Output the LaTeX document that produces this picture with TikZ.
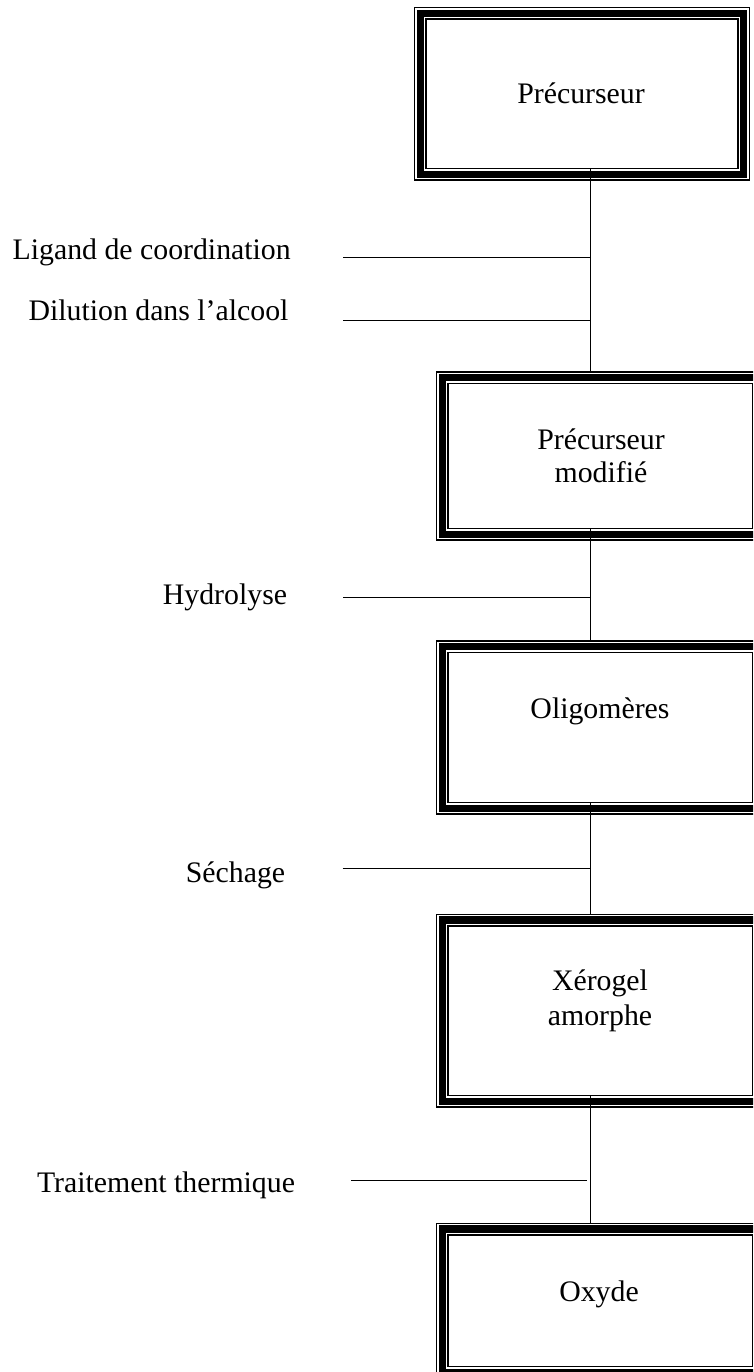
\documentclass[tikz,border=0pt]{standalone}
\usepackage{fontspec}
\setmainfont{Liberation Serif}
\usetikzlibrary{calc}
\tikzset{
  stagebox/.style={draw, rectangle, line width=1.4pt, inner sep=0pt, outer sep=0pt},
  boxtext/.style={font=\fontsize{29.8}{33}\selectfont, align=center, inner sep=0pt, anchor=base},
  sidetext/.style={font=\fontsize{29.8}{34}\selectfont, inner sep=0pt, anchor=base},
  link/.style={line width=1.6pt},
  feed/.style={line width=1.8pt},
  band/.style={line width=7.4pt},
  innerline/.style={line width=1.5pt}
}
\begin{document}
\begin{tikzpicture}[x=1pt,y=-1pt]
\useasboundingbox (0,0) rectangle (753,1372);
\clip (0,0) rectangle (753,1372);

% boxes (outer thin line)
\node[stagebox, minimum width=334.7pt, minimum height=172.4pt] (b1) at (582,93.8) {};
\node[stagebox, minimum width=327.4pt, minimum height=168pt] (b2) at (600.3,456) {};
\node[stagebox, minimum width=327.4pt, minimum height=173pt] (b3) at (600.3,727.5) {};
\node[stagebox, minimum width=327.4pt, minimum height=192.5pt] (b4) at (600.3,1010.75) {};
\node[stagebox, minimum width=327.4pt, minimum height=154.5pt] (b5) at (600.3,1300.75) {};

\foreach \n in {b1,b2,b3,b4,b5}{
  \draw[band] ($(\n.south west)+(5.65pt,5.65pt)$) rectangle ($(\n.north east)+(-5.65pt,-5.65pt)$);
  \draw[innerline] ($(\n.south west)+(11.4pt,11.4pt)$) rectangle ($(\n.north east)+(-11.4pt,-11.4pt)$);
}

% box texts
\node[boxtext] (t1) at (581,103.5) {Précurseur};
\node[boxtext] (t2) at (601,482.5) {Précurseur\\modifié};
\node[boxtext] (t3) at (600,718) {Oligomères};
\node[boxtext, font=\fontsize{29.8}{35.5}\selectfont] (t4) at (600,1025.5) {Xérogel\\amorphe};
\node[boxtext] (t5) at (599,1301) {Oxyde};

% side labels
\node[sidetext] (s1) at (151.7,259) {Ligand de coordination};
\node[sidetext] (s2) at (158.5,320.5) {Dilution dans l’alcool};
\node[sidetext] (s3) at (225,604) {Hydrolyse};
\node[sidetext] (s4) at (235.5,882.5) {Séchage};
\node[sidetext] (s5) at (166,1192.5) {Traitement thermique};

% main vertical line
\coordinate (vx) at (590.5,0);
\draw[link] ($(b1.south -| vx)+(0,11.4pt)$) -- (b2.north -| vx);
\draw[link] ($(b2.south -| vx)+(0,11.4pt)$) -- (b3.north -| vx);
\draw[link] ($(b3.south -| vx)+(0,11.4pt)$) -- (b4.north -| vx);
\draw[link] ($(b4.south -| vx)+(0,11.4pt)$) -- (b5.north -| vx);

% feed lines
\coordinate (c1) at (343,257.5);
\coordinate (c2) at (343,320.5);
\coordinate (c3) at (343,597.5);
\coordinate (c4) at (342.7,868.5);
\coordinate (c5) at (351,1180.5);
\draw[feed] (c1) -- (c1 -| vx);
\draw[feed] (c2) -- (c2 -| vx);
\draw[feed] (c3) -- (c3 -| vx);
\draw[feed] (c4) -- (c4 -| vx);
\draw[feed] (c5) -- ($(c5 -| vx)+(-3.5pt,0)$);
\end{tikzpicture}
\end{document}
